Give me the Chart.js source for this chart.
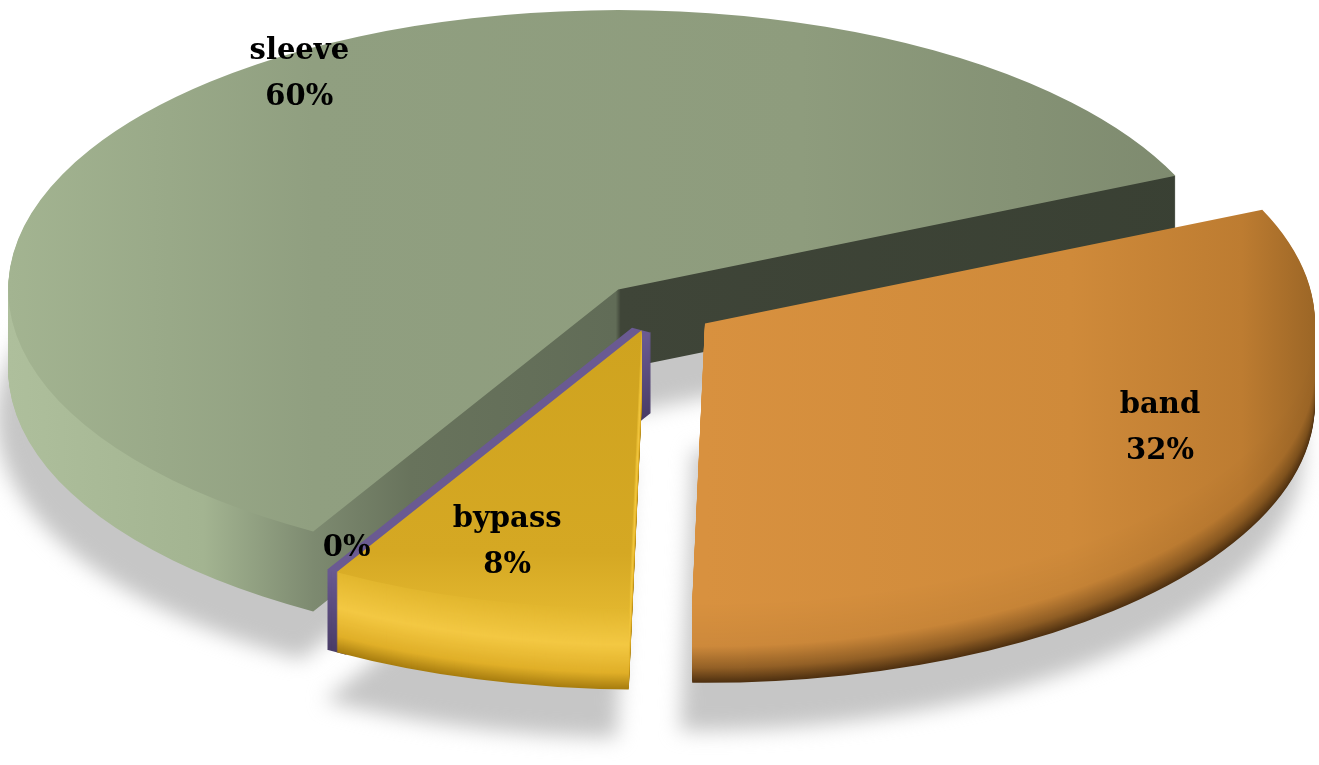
<!DOCTYPE html>
<html>
<head>
<meta charset="utf-8">
<script src="https://cdn.jsdelivr.net/npm/chart.js@4"></script>
<style>
  html, body { margin: 0; padding: 0; background: #fff; }
  #wrap { width: 1319px; height: 765px; }
</style>
</head>
<body>
<div id="wrap"><canvas id="pieChart"></canvas></div>
<script>
// slice order runs clockwise from the band
const categories = ["band", "bypass", "", "sleeve"];
const shares = [32, 8, 0, 60];

// look of the tilted pie
const TILT = 0.458;     // vertical squash of the disc
const LIFT = 133;       // screen shift after squashing
const DEPTH = 80;       // thickness of the disc in px
const explode = [60, 50, 50, 55];          // pull-out along each slice's middle
const labelSpots = [[-6.9, 0.835], [0.6, 0.79], [1.7, 0.92], [7.8, 0.93]]; // [deg shift, radius share]
const drawOrder = [3, 0, 2, 1];            // back to front

// band top colours across its width, reused for its rim
const bandStops = [[0, "#d8913f"], [0.6, "#cf8a3a"], [0.88, "#bd7c31"], [1, "#9c6626"]];

function hex(c) {
    return [parseInt(c.slice(1, 3), 16), parseInt(c.slice(3, 5), 16), parseInt(c.slice(5, 7), 16)];
}
function mix(a, b, t) {
    const A = hex(a), B = hex(b);
    t = Math.max(0, Math.min(1, t));
    return "#" + A.map((v, i) => Math.round(v + (B[i] - v) * t).toString(16).padStart(2, "0")).join("");
}
// piecewise colour ramp, stops as [t, colour]
function ramp(stops, t) {
    for (let i = 1; i < stops.length; i++) {
        if (t <= stops[i][0]) {
            const [t0, c0] = stops[i - 1], [t1, c1] = stops[i];
            return mix(c0, c1, (t - t0) / (t1 - t0));
        }
    }
    return stops[stops.length - 1][1];
}

function sliceShift(arcs, i) {
    // an empty slice rides along with the slice before it
    const j = arcs[i].circumference > 0 ? i : i - 1;
    const a = arcs[j];
    const mid = (a.startAngle + a.endAngle) / 2;
    return [Math.cos(mid) * explode[j], Math.sin(mid) * explode[j]];
}

function paintSlice(ctx, arcs, i, fill, dy, dx) {
    const arc = arcs[i];
    const [ex, ey] = sliceShift(arcs, i);
    ctx.save();
    ctx.translate(dx || 0, LIFT + dy);
    ctx.scale(1, TILT);
    ctx.translate(ex, ey);
    if (arc.circumference > 0) {
        const el = Object.create(arc);
        el.options = Object.assign({}, arc.options, {
            backgroundColor: fill, borderWidth: 0, offset: 0, spacing: 0
        });
        el.draw(ctx);
    } else {
        // nothing to fill for a 0% slice, only its thin wall
        ctx.strokeStyle = fill;
        ctx.lineWidth = 22;
        ctx.beginPath();
        ctx.moveTo(arc.x, arc.y);
        ctx.lineTo(arc.x + Math.cos(arc.startAngle) * arc.outerRadius,
                   arc.y + Math.sin(arc.startAngle) * arc.outerRadius);
        ctx.stroke();
    }
    ctx.restore();
}

function topFill(ctx, arc, i) {
    const R = arc.outerRadius, x = arc.x, y = arc.y;
    let g;
    if (i === 3) {
        g = ctx.createLinearGradient(x - R, 0, x + R, 0);
        g.addColorStop(0, "#a3b491");
        g.addColorStop(0.25, "#909f80");
        g.addColorStop(0.65, "#8e9c7d");
        g.addColorStop(1, "#7c886d");
    } else if (i === 0) {
        g = ctx.createLinearGradient(x, 0, x + R, 0);
        bandStops.forEach(([t, c]) => g.addColorStop(t, c));
    } else if (i === 1) {
        g = ctx.createLinearGradient(0, y, 0, y + R);
        g.addColorStop(0, "#cfa31f");
        g.addColorStop(0.8, "#d5a823");
        g.addColorStop(1, "#e2b62e");
    } else {
        return "#6a5a92";
    }
    return g;
}

function wallFill(ctx, arcs, i, k, sleeveWall) {
    const t = k / DEPTH;
    const arc = arcs[i];
    if (i === 3) return sleeveWall;
    if (i === 0) {
        // band rim: keeps the top colour, browns out towards the floor
        const g = ctx.createLinearGradient(arc.x, 0, arc.x + arc.outerRadius, 0);
        bandStops.forEach(([p, c]) => {
            g.addColorStop(p, ramp([[0, c], [0.55, mix(c, "#7a4c1a", 0.12)], [0.82, mix(c, "#5a3812", 0.55)], [1, "#4e3010"]], t));
        });
        return g;
    }
    if (i === 1) return ramp([[0, "#e2b62e"], [0.45, "#f3c843"], [0.8, "#e0af28"], [1, "#a87e10"]], t);
    return mix("#6a5a92", "#4a3d68", t);
}

const tiltPlugin = {
    id: "tiltedPie",
    beforeDatasetsDraw(chart) {
        const ctx = chart.ctx;
        const arcs = chart.getDatasetMeta(0).data;
        const s = arcs[3];

        // soft shadow on the floor
        ctx.save();
        ctx.filter = "blur(10px)";
        arcs.forEach((a, i) => { if (a.circumference > 0) paintSlice(ctx, arcs, i, "#c6c6c6", DEPTH + 48, -12); });
        ctx.restore();

        // sleeve side walls: lit rim on the left, dark cut on the right
        const R = s.outerRadius;
        const sw = ctx.createLinearGradient(s.x - R, 0, s.x + R, 0);
        sw.addColorStop(0, "#aebf9c");
        sw.addColorStop(0.16, "#a3b491");
        sw.addColorStop(0.25, "#7d8a70");
        sw.addColorStop(0.33, "#68735c");
        sw.addColorStop(0.498, "#616c57");
        sw.addColorStop(0.502, "#3f4538");
        sw.addColorStop(1, "#394033");

        drawOrder.forEach(i => {
            for (let k = DEPTH; k >= 1; k--) {
                paintSlice(ctx, arcs, i, wallFill(ctx, arcs, i, k, sw), k);
            }
            paintSlice(ctx, arcs, i, topFill(ctx, arcs[i], i), 0);
        });

        // value labels
        const total = shares.reduce((a, b) => a + b, 0);
        ctx.save();
        ctx.fillStyle = "#000";
        ctx.font = "bold 29px 'DejaVu Serif'";
        ctx.textAlign = "center";
        ctx.textBaseline = "middle";
        arcs.forEach((a, i) => {
            const [ex, ey] = sliceShift(arcs, i);
            const mid = (a.startAngle + a.endAngle) / 2 + labelSpots[i][0] * Math.PI / 180;
            const r = a.outerRadius * labelSpots[i][1];
            const px = a.x + ex + Math.cos(mid) * r;
            const py = LIFT + TILT * (a.y + ey + Math.sin(mid) * r);
            const pct = Math.round(shares[i] / total * 100) + "%";
            if (categories[i]) {
                ctx.fillText(categories[i], px, py - 23);
                ctx.fillText(pct, px, py + 23);
            } else {
                ctx.fillText(pct, px, py);
            }
        });
        ctx.restore();
        return false;
    }
};

new Chart(document.getElementById("pieChart"), {
    type: "pie",
    data: {
        labels: categories,
        datasets: [{ data: shares, borderWidth: 0 }]
    },
    options: {
        responsive: true,
        maintainAspectRatio: false,
        animation: false,
        events: [],
        radius: 610,
        rotation: 66,
        layout: { padding: { right: 9 } },
        plugins: { legend: { display: false }, tooltip: { enabled: false } }
    },
    plugins: [tiltPlugin]
});
</script>
</body>
</html>
